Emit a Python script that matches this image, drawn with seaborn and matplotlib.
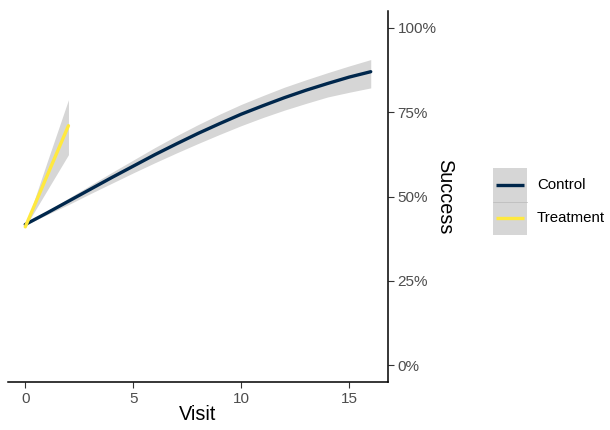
import matplotlib
matplotlib.use("Agg")
import matplotlib.pyplot as plt
import matplotlib.ticker as mtick
from matplotlib.patches import Rectangle
from matplotlib.lines import Line2D
import seaborn as sns
import pandas as pd

# ---- data ----
control_visit = [0, 1, 2, 3, 4, 5, 6, 7, 8, 9, 10, 11, 12, 13, 14, 15, 16]
control_success = [41.7, 45.1, 48.6, 52.1, 55.6, 59.0, 62.4, 65.6, 68.7, 71.6, 74.4,
                   76.9, 79.3, 81.5, 83.5, 85.4, 87.0]
control_lo = [41.5, 44.6, 47.6, 50.8, 53.9, 57.0, 60.0, 62.9, 65.7, 68.4, 71.0,
              73.4, 75.6, 77.6, 79.5, 80.9, 82.2]
control_hi = [41.9, 45.6, 49.5, 53.3, 57.1, 60.8, 64.5, 68.0, 71.3, 74.4, 77.3,
              79.9, 82.4, 84.6, 86.7, 88.7, 90.6]

treat_visit = [0, 1, 2]
treat_success = [41.0, 56.0, 71.0]
treat_lo = [41.0, 51.7, 62.4]
treat_hi = [41.0, 60.0, 78.7]

groups = ["Control", "Treatment"]
colors = ["#00274C", "#FFE93F"]
ribbon_color = "#D6D6D6"

x_ticks = [0, 5, 10, 15]
y_ticks = [0, 0.25, 0.5, 0.75, 1.0]

df = pd.concat([
    pd.DataFrame({"Visit": control_visit, "Success": [v / 100 for v in control_success],
                  "lo": [v / 100 for v in control_lo], "hi": [v / 100 for v in control_hi],
                  "Group": groups[0]}),
    pd.DataFrame({"Visit": treat_visit, "Success": [v / 100 for v in treat_success],
                  "lo": [v / 100 for v in treat_lo], "hi": [v / 100 for v in treat_hi],
                  "Group": groups[1]}),
], ignore_index=True)

sns.set_theme(style="white")
plt.rcParams["font.family"] = ["Liberation Sans", "DejaVu Sans"]

W, H = 610, 430
fig = plt.figure(figsize=(6.1, 4.3), dpi=100)
ax = fig.add_axes([8 / W, 1 - 382 / H, 380 / W, 371 / H])

for g in groups:
    d = df[df["Group"] == g]
    ax.fill_between(d["Visit"], d["lo"], d["hi"], color=ribbon_color, lw=0, zorder=1)

sns.lineplot(data=df, x="Visit", y="Success", hue="Group", hue_order=groups,
             palette=dict(zip(groups, colors)), linewidth=2.4, legend=False, ax=ax,
             zorder=3, errorbar=None)

ax.set_xlim(-0.8, 16.8)
ax.set_ylim(-0.05, 1.05)
ax.set_xticks(x_ticks)
ax.set_yticks(y_ticks)
ax.yaxis.set_major_formatter(mtick.PercentFormatter(1.0, decimals=0))

ax.yaxis.tick_right()
ax.yaxis.set_label_position("right")
for s in ["left", "top"]:
    ax.spines[s].set_visible(False)
for s in ["right", "bottom"]:
    ax.spines[s].set_visible(True)
    ax.spines[s].set_color("black")
    ax.spines[s].set_linewidth(1.1)

ax.tick_params(axis="both", which="major", length=4.5, width=0.8, color="#333333",
               labelcolor="#4D4D4D", labelsize=11, pad=2.5)
ax.tick_params(axis="x", bottom=True)
ax.tick_params(axis="y", right=True, left=False)

ax.set_xlabel("Visit", fontsize=14.3, color="black")
ax.xaxis.set_label_coords(0.5, (382 - 414) / 371)
ax.xaxis.label.set_va("center")
ax.set_ylabel("Success", fontsize=14.3, color="black", rotation=-90)
ax.yaxis.set_label_coords((445 - 8) / 380, 0.5)
ax.yaxis.label.set_va("center")
ax.yaxis.label.set_ha("center")

# ---- legend (ggplot style keys with ribbon background) ----
def fx(px):
    return px / W

def fy(py):
    return 1 - py / H

fig.patches.append(Rectangle((fx(493), fy(235)), fx(527) - fx(493), fy(168) - fy(235),
                             transform=fig.transFigure, facecolor=ribbon_color,
                             edgecolor="none", zorder=1))
fig.lines.append(Line2D([fx(493), fx(527)], [fy(201.7), fy(201.7)],
                        transform=fig.transFigure, color="#BDBDBD", lw=0.6, zorder=2))
for g, c, py in zip(groups, colors, [185, 218]):
    fig.lines.append(Line2D([fx(496), fx(524)], [fy(py), fy(py)],
                            transform=fig.transFigure, color=c, lw=2.4,
                            solid_capstyle="butt", zorder=3))
    fig.text(fx(537), fy(py), g, fontsize=10.8, color="black", va="center", ha="left")

fig.savefig("out.png", dpi=100)
